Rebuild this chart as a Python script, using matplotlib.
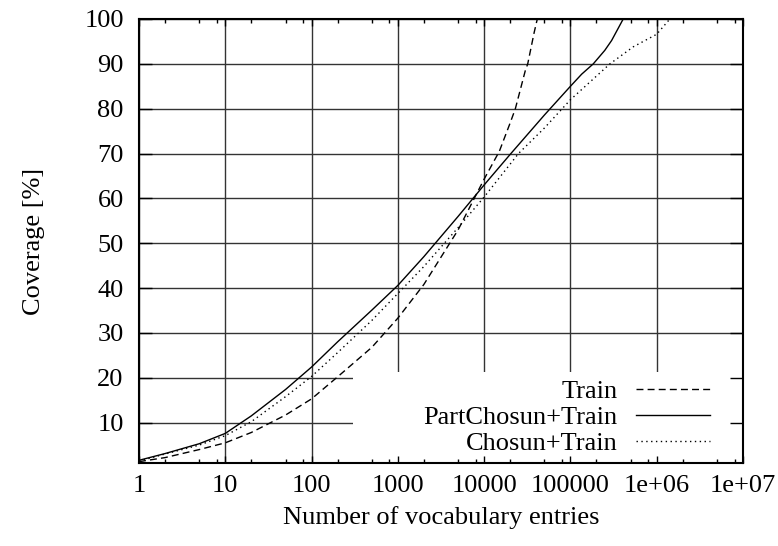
import matplotlib
matplotlib.use("Agg")
import matplotlib.pyplot as plt
from matplotlib.patches import Rectangle
from matplotlib.ticker import FixedLocator, LogLocator, NullFormatter

plt.rcParams['font.family'] = ['Liberation Serif', 'DejaVu Serif']

# ---- data ----
train_x = [1, 2, 5, 10, 20, 50, 100, 200, 500, 1000, 2000, 5000, 10000,
           15000, 20000, 23000, 30000, 32000, 38000, 41300]
train_y = [1.3, 2.2, 4.0, 5.5, 7.8, 11.7, 15.3, 20.2, 26.8, 33.3, 40.8, 53.0, 64.3,
           70.5, 76.8, 80.0, 88.5, 90.0, 97.0, 100.0]

part_x = [1, 2, 5, 10, 20, 50, 100, 200, 500, 1000, 2000, 5000, 10000,
          20000, 50000, 100000, 135000, 184000, 250000, 300000, 409000]
part_y = [1.6, 3.1, 5.3, 7.6, 11.5, 17.4, 22.4, 28.0, 35.1, 40.6, 47.0, 56.0, 63.0,
          69.8, 78.6, 85.0, 87.7, 90.0, 93.0, 95.2, 100.0]

chosun_x = [1, 2, 5, 10, 20, 50, 100, 200, 500, 1000, 2000, 5000, 10000,
            25000, 50000, 100000, 287000, 535000, 1000000, 1420000]
chosun_y = [1.4, 3.0, 5.0, 7.1, 10.2, 15.8, 20.3, 25.6, 32.8, 38.8, 44.8, 53.5, 60.3,
            70.0, 75.7, 82.0, 90.0, 93.8, 96.6, 100.0]

xticks = [1, 10, 100, 1000, 10000, 100000, 1e6, 1e7]
xticklabels = ["1", "10", "100", "1000", "10000", "100000", "1e+06", "1e+07"]
yticks = [10, 20, 30, 40, 50, 60, 70, 80, 90, 100]

FS = 19

fig = plt.figure(figsize=(7.78, 5.46), dpi=100)
pos = [139/778, 1 - 463/546, (743-139)/778, (463-19)/546]
ax = fig.add_axes(pos)
ax.set_axisbelow(True)
ax.set_xscale('log')
ax.set_xlim(1, 1e7)
ax.set_ylim(1, 100)
ax.set_xticks(xticks)
ax.set_xticklabels(xticklabels)
ax.set_yticks(yticks)
ax.xaxis.set_minor_locator(FixedLocator([]))
ax.tick_params(axis='both', which='both', length=0, labelsize=FS)
ax.tick_params(axis='x', pad=9)
ax.tick_params(axis='y', pad=11)
ax.grid(True, which='major', color='#333333', linewidth=1.0, linestyle='-')

# white key area masking the grid
ax.add_patch(Rectangle((0.354, 0.0), 0.646, 0.205, transform=ax.transAxes,
                       facecolor='white', edgecolor='none', zorder=0.6))

ax.plot(train_x, train_y, color='black', lw=1.0, linestyle=(0, (5, 3)), label='Train')
ax.plot(part_x, part_y, color='black', lw=1.0, linestyle='-', label='PartChosun+Train')
ax.plot(chosun_x, chosun_y, color='black', lw=1.0, linestyle=(0, (1, 2.5)), label='Chosun+Train')

for s in ax.spines.values():
    s.set_linewidth(1.5)
    s.set_zorder(3)

leg = ax.legend(loc='lower right', bbox_to_anchor=(0.9454, 0.018),
                markerfirst=False, frameon=False, fontsize=FS,
                handlelength=2.8, handletextpad=0.7, labelspacing=0.1,
                borderaxespad=0.0, borderpad=0.0)

ax.set_xlabel("Number of vocabulary entries", fontsize=FS, labelpad=6)
ax.set_ylabel("Coverage [%]", fontsize=FS, labelpad=28)

# overlay axes that only carries the inward ticks (drawn above the key mask)
ax2 = fig.add_axes(pos, facecolor='none')
ax2.set_xscale('log')
ax2.set_xlim(1, 1e7)
ax2.set_ylim(1, 100)
ax2.set_xticks(xticks)
ax2.set_yticks(yticks)
ax2.xaxis.set_minor_locator(LogLocator(base=10, subs=(2.0, 5.0, 8.0), numticks=20))
ax2.xaxis.set_minor_formatter(NullFormatter())
ax2.tick_params(axis='both', which='both', direction='in', labelbottom=False,
                labelleft=False, top=True, right=True, color='black', width=1.0)
ax2.tick_params(axis='x', which='major', length=5)
ax2.tick_params(axis='x', which='minor', length=3)
ax2.tick_params(axis='y', which='major', length=9.5)
for s in ax2.spines.values():
    s.set_visible(False)

fig.savefig("out.png", dpi=100)
